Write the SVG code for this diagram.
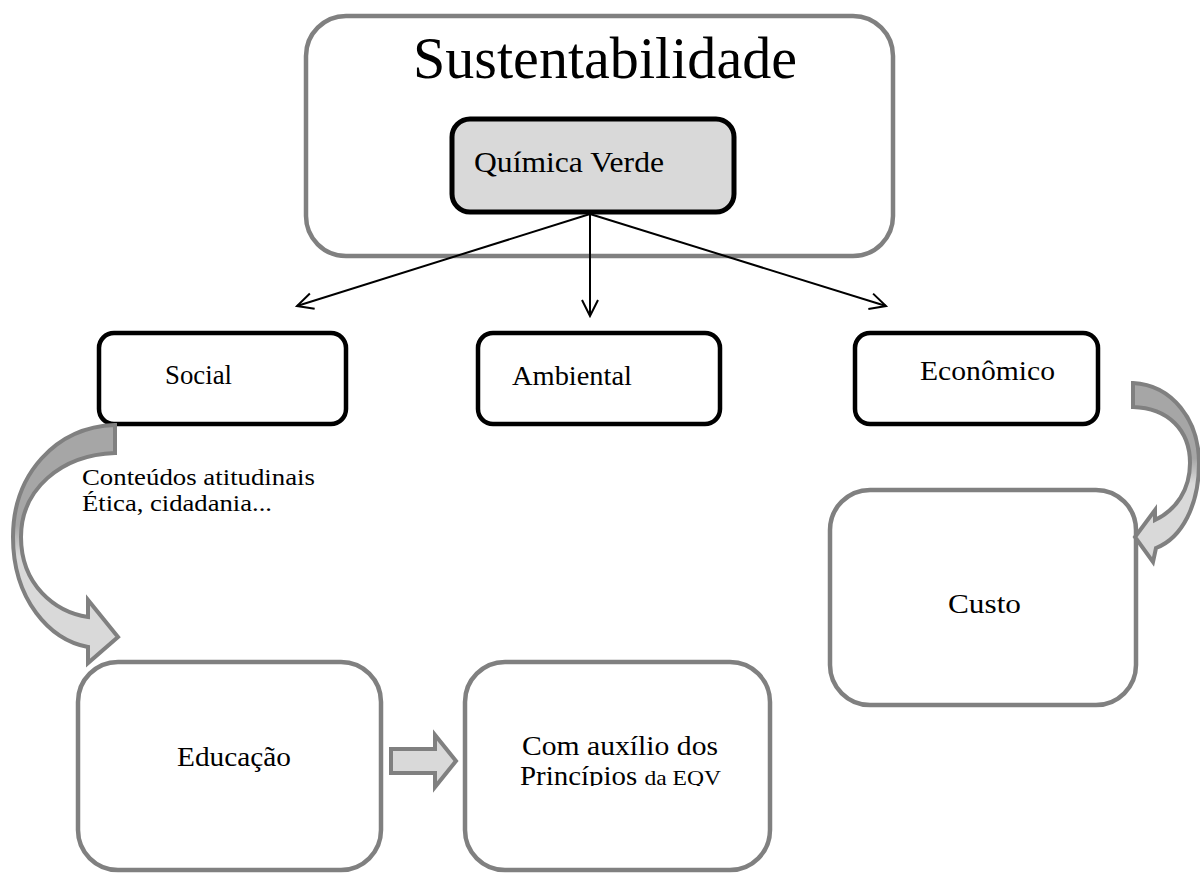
<svg xmlns="http://www.w3.org/2000/svg" width="1200" height="873" viewBox="0 0 1200 873">
  <style>
    .txt { font-family: "Liberation Serif", "Times New Roman", serif; fill: #000; }
    .gray { fill: #ffffff; stroke: #808080; stroke-width: 4.5; }
    .black { fill: #ffffff; stroke: #000000; stroke-width: 4.5; }
    .conn { stroke: #000; stroke-width: 2; fill: none; }
    .block { stroke: #808080; stroke-width: 4; stroke-linejoin: miter; }
  </style>
  <defs>
    <marker id="open" viewBox="0 0 20 20" refX="18" refY="10" markerWidth="20" markerHeight="20" markerUnits="userSpaceOnUse" orient="auto">
      <path d="M2,2 L18,10 L2,18" fill="none" stroke="#000" stroke-width="2"/>
    </marker>
    <linearGradient id="shadeL" gradientUnits="userSpaceOnUse" x1="0" y1="425" x2="0" y2="663">
      <stop offset="0" stop-color="#a6a6a6"/>
      <stop offset="0.42" stop-color="#a6a6a6"/>
      <stop offset="0.55" stop-color="#d9d9d9"/>
      <stop offset="1" stop-color="#d9d9d9"/>
    </linearGradient>
    <linearGradient id="shadeR" gradientUnits="userSpaceOnUse" x1="0" y1="383" x2="0" y2="562">
      <stop offset="0" stop-color="#a6a6a6"/>
      <stop offset="0.42" stop-color="#a6a6a6"/>
      <stop offset="0.56" stop-color="#d9d9d9"/>
      <stop offset="1" stop-color="#d9d9d9"/>
    </linearGradient>
    <clipPath id="clipEqv">
      <rect x="465" y="662" width="305" height="124"/>
    </clipPath>
  </defs>

  <!-- Outer container -->
  <g id="sustentabilidade">
    <rect class="gray" x="306" y="16" width="587" height="240" rx="40" ry="40"/>
    <text class="txt" x="413" y="78" font-size="60" textLength="384" lengthAdjust="spacingAndGlyphs">Sustentabilidade</text>
  </g>

  <g id="quimica-verde">
    <rect x="452" y="119" width="282" height="93" rx="18" ry="18" fill="#d9d9d9" stroke="#000" stroke-width="5"/>
    <text class="txt" x="474" y="172" font-size="30" textLength="190" lengthAdjust="spacingAndGlyphs">Química Verde</text>
  </g>

  <!-- Three pillars -->
  <g id="social">
    <rect class="black" x="99" y="333" width="247" height="91" rx="15" ry="15"/>
    <text class="txt" x="165" y="384" font-size="27" textLength="67" lengthAdjust="spacingAndGlyphs">Social</text>
  </g>
  <g id="ambiental">
    <rect class="black" x="478" y="333" width="242" height="91" rx="15" ry="15"/>
    <text class="txt" x="512" y="385" font-size="27" textLength="120" lengthAdjust="spacingAndGlyphs">Ambiental</text>
  </g>
  <g id="economico">
    <rect class="black" x="855" y="333" width="243" height="91" rx="15" ry="15"/>
    <text class="txt" x="920" y="380" font-size="27" textLength="135" lengthAdjust="spacingAndGlyphs">Econômico</text>
  </g>

  <!-- Annotation under Social -->
  <g id="atitudinais">
    <text class="txt" x="82" y="485" font-size="23" textLength="233" lengthAdjust="spacingAndGlyphs">Conteúdos atitudinais</text>
    <text class="txt" x="82" y="511" font-size="23" textLength="190" lengthAdjust="spacingAndGlyphs">Ética, cidadania...</text>
  </g>

  <g id="custo">
    <rect class="gray" x="830" y="490" width="306" height="215" rx="40" ry="40"/>
    <text class="txt" x="948" y="613" font-size="27" textLength="73" lengthAdjust="spacingAndGlyphs">Custo</text>
  </g>

  <g id="educacao">
    <rect class="gray" x="78" y="662" width="303" height="208" rx="40" ry="40"/>
    <text class="txt" x="177" y="766" font-size="27" textLength="114" lengthAdjust="spacingAndGlyphs">Educação</text>
  </g>

  <g id="principios">
    <rect class="gray" x="465" y="662" width="305" height="208" rx="40" ry="40"/>
    <g clip-path="url(#clipEqv)">
      <text class="txt" x="522" y="755" font-size="27" textLength="196" lengthAdjust="spacingAndGlyphs">Com auxílio dos</text>
      <text class="txt" x="520" y="785" font-size="27" textLength="201" lengthAdjust="spacingAndGlyphs">Princípios <tspan font-size="22">da EQV</tspan></text>
    </g>
  </g>

  <!-- Connectors -->
  <g id="connectors">
    <line class="conn" x1="590" y1="214" x2="297" y2="306" marker-end="url(#open)"/>
    <line class="conn" x1="590" y1="214" x2="590" y2="316" marker-end="url(#open)"/>
    <line class="conn" x1="590" y1="214" x2="886" y2="306" marker-end="url(#open)"/>

    <!-- curved block arrow: Social -> Educação -->
    <path class="block" fill="url(#shadeL)" d="M115,425 C55,427 13,475 13,537 C13,600 50,640 88,647 L88,663 L118,637 L88,600 L88,617 C55,612 21,585 21,537 C21,490 60,455 115,453 Z"/>

    <!-- curved block arrow: Econômico -> Custo -->
    <path class="block" fill="url(#shadeR)" d="M1133,383 C1172,385 1199,420 1199,463 C1199,505 1182,538 1156,548 L1153,562 L1135,537 L1155,510 L1155,520 C1176,510 1190,490 1190,463 C1190,430 1168,408 1133,407 Z"/>

    <!-- straight block arrow: Educação -> Princípios -->
    <path class="block" fill="#d9d9d9" d="M391,749 L435,749 L435,735 L456,761 L435,787 L435,773 L391,773 Z"/>
  </g>
</svg>
